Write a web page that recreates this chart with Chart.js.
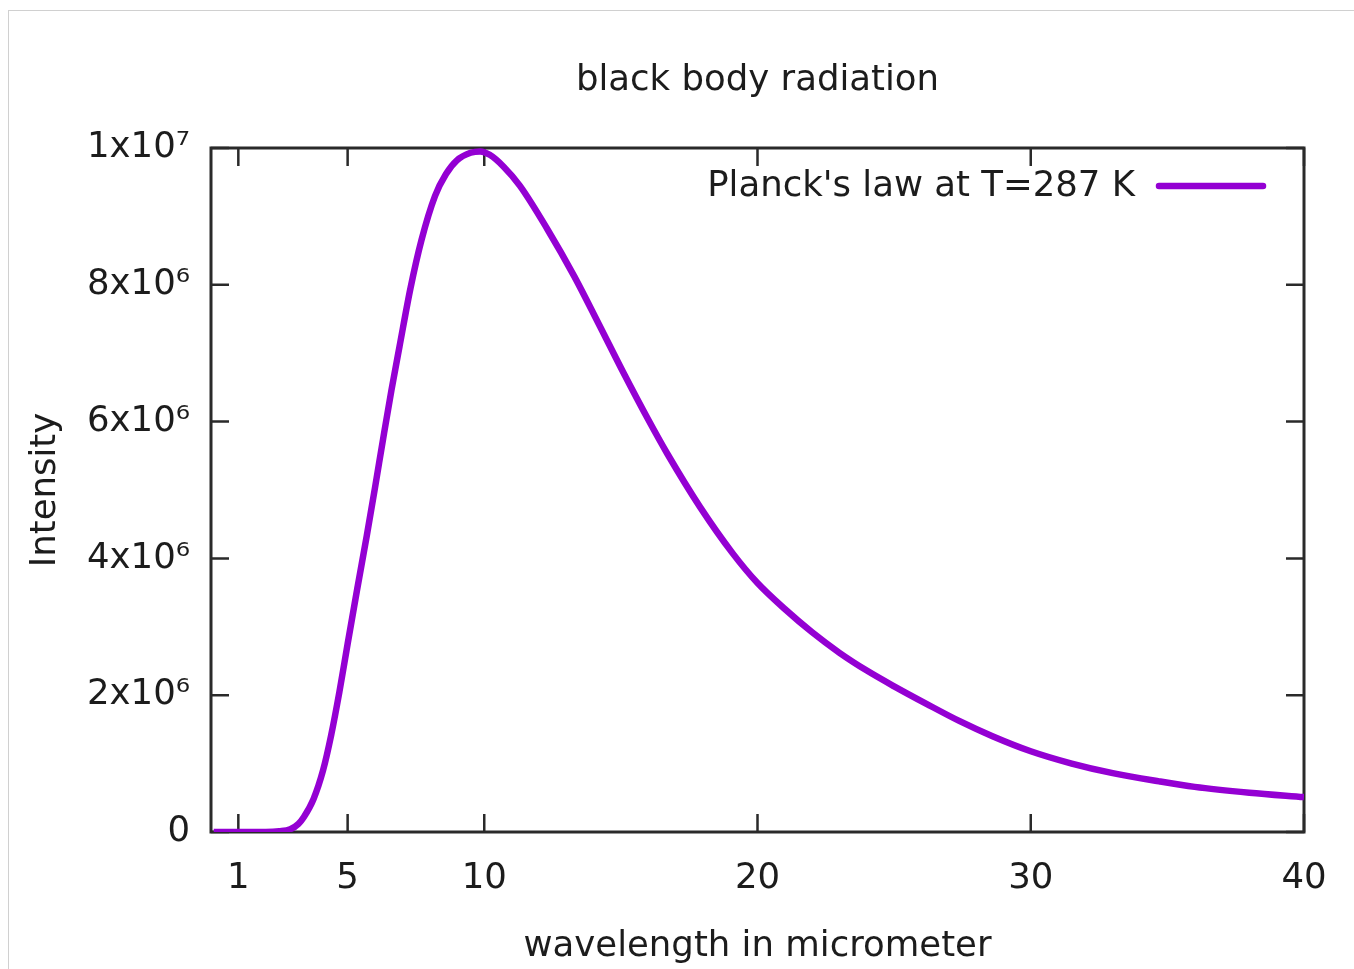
<!DOCTYPE html>
<html>
<head>
<meta charset="utf-8">
<title>black body radiation</title>
<script src="https://cdn.jsdelivr.net/npm/chart.js@4.4.1/dist/chart.umd.min.js"></script>
<style>
  html, body { margin: 0; padding: 0; background: #fff; overflow: hidden; }
  #wrap { position: relative; width: 1354px; height: 969px; }
  #frame { position: absolute; left: 8px; top: 10px; width: 1400px; height: 1000px; border: 1px solid #d0d0d0; }
  canvas { position: absolute; left: 0; top: 0; }
</style>
</head>
<body>
<div id="wrap">
  <div id="frame"></div>
  <canvas id="chart" width="1354" height="969"></canvas>
</div>
<script>
// Values (wavelength in micrometer -> intensity)
const wavelength = [0.1, 1, 2, 2.5, 2.9, 3.2, 3.4, 3.75, 4.1, 4.4, 4.7, 5.0, 5.35, 5.7, 6.0, 6.3, 6.6, 6.9,
  7.3, 7.7, 8.2, 8.6, 9.0, 9.5, 9.85, 10.2, 10.7, 11.3, 12.3, 13.3, 14.2, 15.1, 16.0, 16.7, 17.9, 19.1,
  20.0, 21.0, 22.0, 23.0, 24.0, 25.0, 26.2, 27.4, 28.6, 30.0, 31.5, 33.0, 34.7, 36.0, 38.0, 40.0];
const intensity = [0, 0, 0, 0.01e6, 0.04e6, 0.12e6, 0.22e6, 0.48e6, 0.9e6, 1.42e6, 2.05e6, 2.75e6, 3.55e6,
  4.33e6, 5.03e6, 5.75e6, 6.45e6, 7.1e6, 7.95e6, 8.65e6, 9.3e6, 9.62e6, 9.82e6, 9.93e6, 9.95e6, 9.9e6,
  9.73e6, 9.45e6, 8.82e6, 8.12e6, 7.42e6, 6.71e6, 6.03e6, 5.53e6, 4.75e6, 4.07e6, 3.64e6, 3.26e6, 2.92e6,
  2.62e6, 2.36e6, 2.13e6, 1.87e6, 1.62e6, 1.4e6, 1.18e6, 1.0e6, 0.86e6, 0.74e6, 0.66e6, 0.575e6, 0.51e6];

const xTicks = [1, 5, 10, 20, 30, 40];
const yTicks = [0, 2e6, 4e6, 6e6, 8e6, 1e7];
const yTickLabels = ['0', '2x10\u2076', '4x10\u2076', '6x10\u2076', '8x10\u2076', '1x10\u2077'];

const seriesLabel = "Planck's law at T=287 K";
const FONT = "'DejaVu Sans', sans-serif";
const SIZE = 35.5;
const TEXT = '#1c1c1c';
const LINE = '#9400d3';

// gnuplot style frame with inward ticks on all four sides
const framePlugin = {
  id: 'frame',
  beforeDatasetsDraw(chart) {
    const { ctx, chartArea: a, scales } = chart;
    const len = 18;
    ctx.save();
    ctx.strokeStyle = '#2a2a2a';
    ctx.lineWidth = 2.5;
    ctx.beginPath();
    scales.x.ticks.forEach(t => {
      const px = scales.x.getPixelForValue(t.value);
      ctx.moveTo(px, a.bottom); ctx.lineTo(px, a.bottom - len);
      ctx.moveTo(px, a.top); ctx.lineTo(px, a.top + len);
    });
    scales.y.ticks.forEach(t => {
      const py = scales.y.getPixelForValue(t.value);
      ctx.moveTo(a.left, py); ctx.lineTo(a.left + len, py);
      ctx.moveTo(a.right, py); ctx.lineTo(a.right - len, py);
    });
    ctx.stroke();
    ctx.lineWidth = 3;
    ctx.strokeRect(a.left, a.top, a.right - a.left, a.bottom - a.top);
    ctx.restore();
  }
};

// key in the top right corner: text first, then the line sample
const keyPlugin = {
  id: 'key',
  afterDatasetsDraw(chart) {
    const { ctx, chartArea: a } = chart;
    const ds = chart.data.datasets[0];
    const y = a.top + 39;
    ctx.save();
    ctx.font = SIZE + 'px ' + FONT;
    ctx.fillStyle = TEXT;
    ctx.textAlign = 'right';
    ctx.textBaseline = 'middle';
    ctx.fillText(ds.label, a.right - 169, y);
    ctx.strokeStyle = ds.borderColor;
    ctx.lineWidth = ds.borderWidth;
    ctx.lineCap = 'round';
    ctx.beginPath();
    ctx.moveTo(a.right - 145, y - 1);
    ctx.lineTo(a.right - 41, y - 1);
    ctx.stroke();
    ctx.restore();
  }
};

const ctx = document.getElementById('chart').getContext('2d');
new Chart(ctx, {
  type: 'line',
  data: {
    datasets: [{
      label: seriesLabel,
      data: wavelength.map((w, i) => ({ x: w, y: intensity[i] })),
      borderColor: LINE,
      backgroundColor: LINE,
      borderWidth: 6.5,
      pointRadius: 0,
      fill: false,
      cubicInterpolationMode: 'monotone'
    }]
  },
  options: {
    responsive: false,
    animation: false,
    layout: { padding: { left: 0, right: 50, top: 0, bottom: 0 } },
    plugins: {
      legend: { display: false },
      tooltip: { enabled: false },
      title: {
        display: true,
        fullSize: false,
        text: 'black body radiation',
        color: TEXT,
        font: { family: FONT, size: SIZE, weight: 'normal', lineHeight: 1.2 },
        padding: { top: 59.7, bottom: 45.7 }
      }
    },
    scales: {
      x: {
        type: 'linear',
        min: 0,
        max: 40,
        grid: { display: false, drawTicks: false },
        border: { display: false },
        afterBuildTicks: scale => { scale.ticks = xTicks.map(v => ({ value: v })); },
        afterFit: scale => { scale.height = 137; },
        ticks: {
          color: TEXT,
          padding: 25.7,
          maxRotation: 0,
          autoSkip: false,
          font: { family: FONT, size: SIZE, lineHeight: 1.2 },
          callback: v => String(v)
        },
        title: {
          display: true,
          text: 'wavelength in micrometer',
          color: TEXT,
          font: { family: FONT, size: SIZE, lineHeight: 1.2 },
          padding: { top: 0, bottom: 0.7 }
        }
      },
      y: {
        min: 0,
        max: 1e7,
        grid: { display: false, drawTicks: false },
        border: { display: false },
        afterBuildTicks: scale => { scale.ticks = yTicks.map(v => ({ value: v })); },
        afterFit: scale => { scale.width = 211; },
        ticks: {
          color: TEXT,
          padding: 21,
          autoSkip: false,
          font: { family: FONT, size: SIZE, lineHeight: 1.2 },
          callback: v => yTickLabels[yTicks.indexOf(v)]
        },
        title: {
          display: true,
          text: 'Intensity',
          color: TEXT,
          font: { family: FONT, size: SIZE, lineHeight: 1.2 },
          padding: { top: 24.7, bottom: 0 }
        }
      }
    }
  },
  plugins: [framePlugin, keyPlugin]
});
</script>
</body>
</html>
